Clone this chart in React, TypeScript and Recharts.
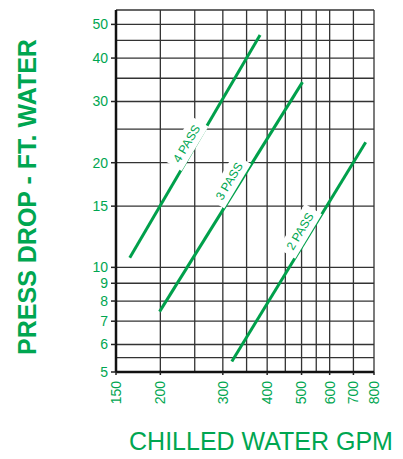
import {
  ComposedChart,
  Line,
  Scatter,
  XAxis,
  YAxis,
  CartesianGrid,
  Label,
} from "recharts";

const GREEN = "#00a651";
const LINE_GREEN = "#00a04b";
const FONT = "'Liberation Sans', Arial, Helvetica, sans-serif";

// grid lines (log paper) and the subset that carries a label
const gpmGrid = [150, 200, 250, 300, 350, 400, 450, 500, 550, 600, 700, 800];
const gpmLabels = [150, 200, 300, 400, 500, 600, 700, 800];
const ftGrid = [5, 5.5, 6, 7, 8, 9, 10, 15, 20, 25, 30, 35, 40, 45, 50, 55];
const ftLabels = [5, 6, 7, 8, 9, 10, 15, 20, 30, 40, 50];

// pressure drop curves, gpm -> ft of water
const fourPass = [
  { gpm: 164, ft: 10.66 },
  { gpm: 382, ft: 46.6 },
];
const threePass = [
  { gpm: 199, ft: 7.46 },
  { gpm: 503, ft: 34.1 },
];
const twoPass = [
  { gpm: 318, ft: 5.36 },
  { gpm: 758, ft: 22.9 },
];

// where each curve name sits
const passLabels = [
  { gpm: 237, ft: 22.7, text: "4 PASS" },
  { gpm: 312.6, ft: 17.7, text: "3 PASS" },
  { gpm: 495, ft: 12.7, text: "2 PASS" },
];

const XTick = ({ x, y, payload }: any) => {
  const v = payload.value;
  if (!gpmLabels.includes(v)) return null;
  const ty = y + 9;
  return (
    <g>
      <line x1={x} x2={x} y1={y} y2={y + 3} stroke="#222" strokeWidth={1.5} />
      <text
        x={x}
        y={ty}
        transform={`rotate(-90, ${x}, ${ty})`}
        textAnchor="end"
        dy="0.35em"
        fill={GREEN}
        fontSize={14}
        fontFamily={FONT}
      >
        {v}
      </text>
    </g>
  );
};

const YTick = ({ x, y, payload }: any) => {
  const v = payload.value;
  if (!ftLabels.includes(v)) return null;
  return (
    <g>
      <line x1={x - 5} x2={x} y1={y} y2={y} stroke="#222" strokeWidth={1.5} />
      <text
        x={x - 8}
        y={y}
        textAnchor="end"
        dy="0.35em"
        fill={GREEN}
        fontSize={14}
        fontFamily={FONT}
      >
        {v}
      </text>
    </g>
  );
};

const PassLabel = (props: any) => {
  const { cx, cy, payload } = props;
  return (
    <g transform={`translate(${cx}, ${cy}) rotate(-59)`}>
      <rect x={-26} y={-10} width={52} height={20} fill="#fff" />
      <text
        x={0}
        y={0}
        textAnchor="middle"
        dy="0.35em"
        fill={GREEN}
        fontSize={12}
        fontFamily={FONT}
      >
        {payload.text}
      </text>
    </g>
  );
};

export default function App() {
  return (
    <div style={{ position: "absolute", left: 0, top: 0, background: "#fff" }}>
      <ComposedChart
        width={403}
        height={459}
        margin={{ top: 10, right: 29, bottom: 0, left: 0 }}
      >
        <CartesianGrid stroke="#333" strokeWidth={1.3} />
        <XAxis
          dataKey="gpm"
          type="number"
          scale="log"
          domain={[150, 800]}
          allowDataOverflow
          ticks={gpmGrid}
          interval={0}
          height={87}
          tickSize={0}
          tickMargin={0}
          tickLine={false}
          tick={<XTick />}
          axisLine={{ stroke: "#111", strokeWidth: 2.5 }}
        >
          <Label
            content={({ viewBox }: any) => (
              <text
                x={viewBox.x + viewBox.width / 2 + 16}
                y={viewBox.y + 78}
                textAnchor="middle"
                fill={GREEN}
                fontSize={25}
                fontFamily={FONT}
              >
                CHILLED WATER GPM
              </text>
            )}
          />
        </XAxis>
        <YAxis
          dataKey="ft"
          type="number"
          scale="log"
          domain={[5, 55]}
          allowDataOverflow
          ticks={ftGrid}
          interval={0}
          width={116}
          tickSize={0}
          tickMargin={0}
          tickLine={false}
          tick={<YTick />}
          axisLine={{ stroke: "#111", strokeWidth: 2.5 }}
        >
          <Label
            content={({ viewBox }: any) => {
              const lx = viewBox.x + 36;
              const ly = viewBox.y + viewBox.height / 2 + 6;
              return (
                <text
                  x={lx}
                  y={ly}
                  transform={`rotate(-90, ${lx}, ${ly})`}
                  textAnchor="middle"
                  fill={GREEN}
                  fontSize={25}
                  fontWeight="bold"
                  fontFamily={FONT}
                >
                  PRESS DROP - FT. WATER
                </text>
              );
            }}
          />
        </YAxis>
        <Scatter
          data={passLabels}
          dataKey="ft"
          shape={<PassLabel />}
          isAnimationActive={false}
        />
        <Line data={fourPass} dataKey="ft" stroke={LINE_GREEN} strokeWidth={3} dot={false} isAnimationActive={false} />
        <Line data={threePass} dataKey="ft" stroke={LINE_GREEN} strokeWidth={3} dot={false} isAnimationActive={false} />
        <Line data={twoPass} dataKey="ft" stroke={LINE_GREEN} strokeWidth={3} dot={false} isAnimationActive={false} />
      </ComposedChart>
    </div>
  );
}
